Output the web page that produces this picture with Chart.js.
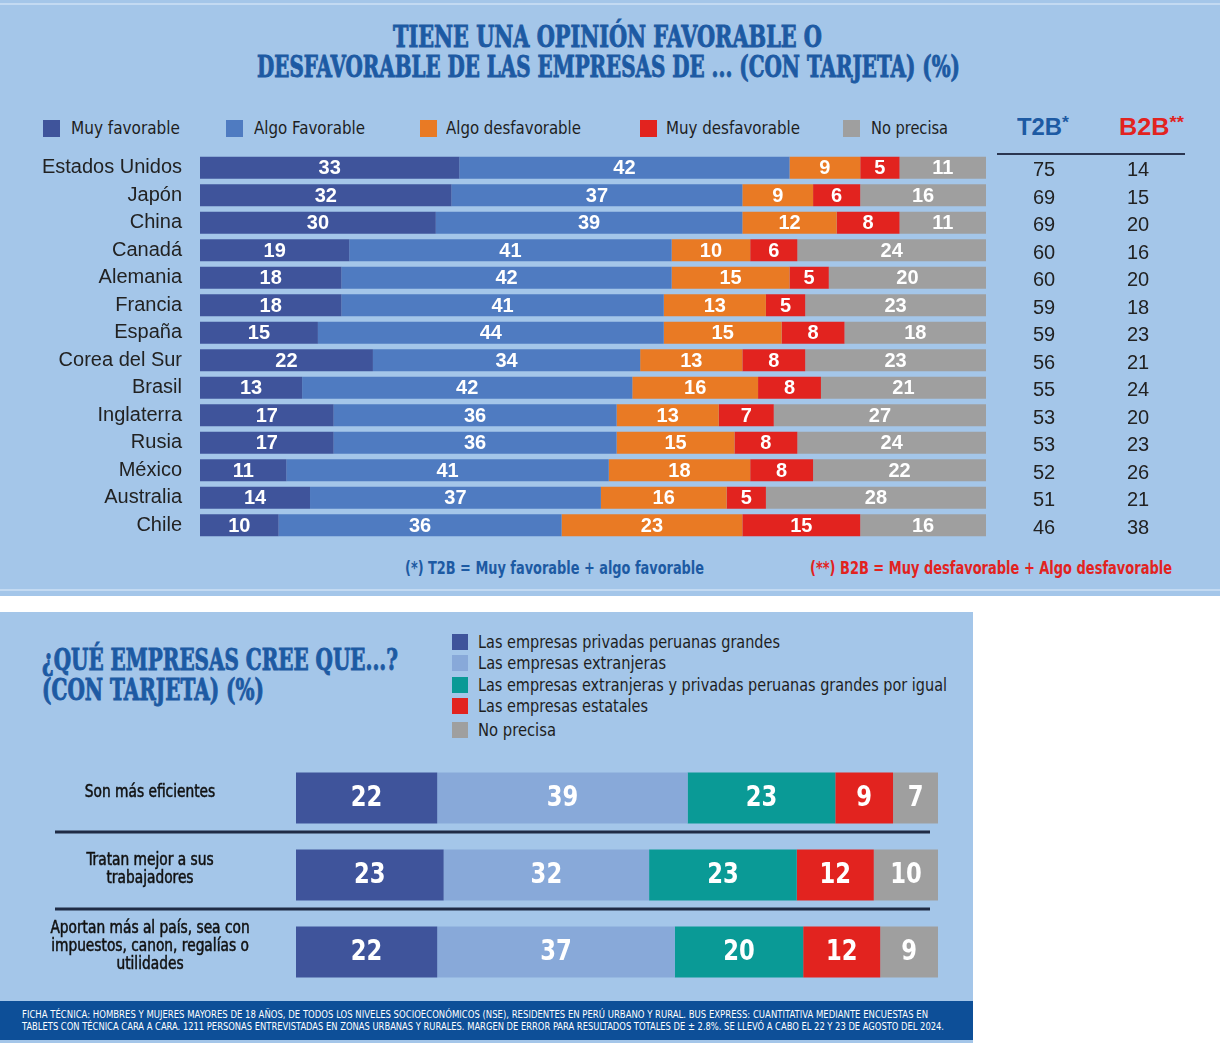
<!DOCTYPE html>
<html>
<head>
<meta charset="utf-8">
<script src="https://cdn.jsdelivr.net/npm/chart.js@4.4.1/dist/chart.umd.min.js"></script>
<style>
  body { margin: 0; width: 1220px; height: 1043px; background: #fff; position: relative; overflow: hidden; }
  .panel { position: absolute; background: #a4c6e9; }
  .t { position: absolute; white-space: nowrap; transform-origin: left center; line-height: 1; }
  .title { font-family: "DejaVu Serif Condensed", "DejaVu Serif", serif; font-weight: bold; color: #1d5aa3; font-size: 30px; -webkit-text-stroke: 0.9px #1d5aa3; }
  .leg { font-family: "Liberation Sans Narrow", "DejaVu Sans Condensed", sans-serif; color: #1e1e1e; font-size: 18px; }
  .sq { position: absolute; width: 17px; height: 17px; }
  canvas { position: absolute; }
</style>
</head>
<body>
<div class="panel" style="left:0;top:0;width:1220px;height:596px;"></div>
<div style="position:absolute;left:0;top:3px;width:1220px;height:2px;background:#c3daf2;"></div>
<div style="position:absolute;left:0;top:589px;width:1220px;height:2px;background:#c3daf2;"></div>
<div class="panel" style="left:0;top:612px;width:973px;height:431px;"></div>
<div style="position:absolute;left:0;top:1001px;width:973px;height:39px;background:#0d4f98;"></div>

<div class="t title" data-w="429" style="left:393px;top:22px;">TIENE UNA OPINIÓN FAVORABLE O</div>
<div class="t title" data-w="703" style="left:257px;top:52px;">DESFAVORABLE DE LAS EMPRESAS DE ... (CON TARJETA) (%)</div>

<div class="sq" style="left:43px;top:120px;background:#3f549b;"></div>
<div class="t leg" data-w="109" style="left:71px;top:119px;">Muy favorable</div>
<div class="sq" style="left:226px;top:120px;background:#4f7bc1;"></div>
<div class="t leg" data-w="111" style="left:254px;top:119px;">Algo Favorable</div>
<div class="sq" style="left:420px;top:120px;background:#e97a24;"></div>
<div class="t leg" data-w="135" style="left:446px;top:119px;">Algo desfavorable</div>
<div class="sq" style="left:640px;top:120px;background:#e2231f;"></div>
<div class="t leg" data-w="134" style="left:666px;top:119px;">Muy desfavorable</div>
<div class="sq" style="left:843px;top:120px;background:#9f9f9f;"></div>
<div class="t leg" data-w="77" style="left:871px;top:119px;">No precisa</div>

<div class="t" data-w="52" style="left:1017px;top:114px;font:bold 23px 'Liberation Sans',sans-serif;color:#1d5aa3;">T2B<span style="font-size:17px;position:relative;top:-7px;">*</span></div>
<div class="t" data-w="65" style="left:1119px;top:114px;font:bold 23px 'Liberation Sans',sans-serif;color:#e2231f;">B2B<span style="font-size:17px;position:relative;top:-7px;">**</span></div>
<div style="position:absolute;left:997px;top:153px;width:188px;height:2px;background:#2a3550;"></div>

<div class="t" data-w="299" style="left:405px;top:557px;font:bold 18px 'Liberation Sans Narrow','DejaVu Sans Condensed',sans-serif;color:#1d5aa3;">(*) T2B = Muy favorable + algo favorable</div>
<div class="t" data-w="362" style="left:810px;top:557px;font:bold 18px 'Liberation Sans Narrow','DejaVu Sans Condensed',sans-serif;color:#e2231f;">(**) B2B = Muy desfavorable + Algo desfavorable</div>

<div class="t title" data-w="356" style="left:42px;top:645px;">¿QUÉ EMPRESAS CREE QUE...?</div>
<div class="t title" data-w="222" style="left:42px;top:675px;">(CON TARJETA) (%)</div>

<div class="sq" style="left:452px;top:634px;width:16px;height:16px;background:#3f549b;"></div>
<div class="t leg" data-w="302" style="left:478px;top:633px;">Las empresas privadas peruanas grandes</div>
<div class="sq" style="left:452px;top:655px;width:16px;height:16px;background:#88a9d9;"></div>
<div class="t leg" data-w="188" style="left:478px;top:654px;">Las empresas extranjeras</div>
<div class="sq" style="left:452px;top:677px;width:16px;height:16px;background:#0a9a96;"></div>
<div class="t leg" data-w="469" style="left:478px;top:676px;">Las empresas extranjeras y privadas peruanas grandes por igual</div>
<div class="sq" style="left:452px;top:698px;width:16px;height:16px;background:#e2231f;"></div>
<div class="t leg" data-w="170" style="left:478px;top:697px;">Las empresas estatales</div>
<div class="sq" style="left:452px;top:722px;width:16px;height:16px;background:#9f9f9f;"></div>
<div class="t leg" data-w="78" style="left:478px;top:721px;">No precisa</div>

<div class="t" data-w="906" style="left:22px;top:1009px;font:10px 'Liberation Sans Narrow','DejaVu Sans Condensed',sans-serif;color:#fff;">FICHA TÉCNICA: HOMBRES Y MUJERES MAYORES DE 18 AÑOS, DE TODOS LOS NIVELES SOCIOECONÓMICOS (NSE), RESIDENTES EN PERÚ URBANO Y RURAL. BUS EXPRESS: CUANTITATIVA MEDIANTE ENCUESTAS EN</div>
<div class="t" data-w="922" style="left:22px;top:1021px;font:10px 'Liberation Sans Narrow','DejaVu Sans Condensed',sans-serif;color:#fff;">TABLETS CON TÉCNICA CARA A CARA. 1211 PERSONAS ENTREVISTADAS EN ZONAS URBANAS Y RURALES. MARGEN DE ERROR PARA RESULTADOS TOTALES DE ± 2.8%. SE LLEVÓ A CABO EL 22 Y 23 DE AGOSTO DEL 2024.</div>

<canvas id="top" width="1220" height="395" style="left:0;top:150px;"></canvas>
<canvas id="bottom" width="975" height="260" style="left:0;top:740px;"></canvas>

<script>
// --- data: top chart ---
var countries = ["Estados Unidos", "Japón", "China", "Canadá", "Alemania", "Francia", "España",
  "Corea del Sur", "Brasil", "Inglaterra", "Rusia", "México", "Australia", "Chile"];
var muyFavorable = [33, 32, 30, 19, 18, 18, 15, 22, 13, 17, 17, 11, 14, 10];
var algoFavorable = [42, 37, 39, 41, 42, 41, 44, 34, 42, 36, 36, 41, 37, 36];
var algoDesfavorable = [9, 9, 12, 10, 15, 13, 15, 13, 16, 13, 15, 18, 16, 23];
var muyDesfavorable = [5, 6, 8, 6, 5, 5, 8, 8, 8, 7, 8, 8, 5, 15];
var noPrecisa = [11, 16, 11, 24, 20, 23, 18, 23, 21, 27, 24, 22, 28, 16];
var t2b = [75, 69, 69, 60, 60, 59, 59, 56, 55, 53, 53, 52, 51, 46];
var b2b = [14, 15, 20, 16, 20, 18, 23, 21, 24, 20, 23, 26, 21, 38];

// --- data: bottom chart ---
var questions = [["Son más eficientes"], ["Tratan mejor a sus", "trabajadores"],
  ["Aportan más al país, sea con", "impuestos, canon, regalías o", "utilidades"]];
var privadasPeruanas = [22, 23, 22];
var extranjeras = [39, 32, 37];
var porIgual = [23, 23, 20];
var estatales = [9, 12, 12];
var noPrecisa2 = [7, 10, 9];

function fitTexts() {
  document.querySelectorAll('[data-w]').forEach(function (el) {
    el.style.transform = '';
    var w = el.getBoundingClientRect().width;
    el.style.transform = 'scaleX(' + (+el.dataset.w / w) + ')';
  });
}

var segLabels = {
  id: 'segLabels',
  afterDatasetsDraw: function (chart, args, opts) {
    var ctx = chart.ctx;
    ctx.save();
    ctx.fillStyle = '#fff';
    ctx.font = opts.font;
    ctx.textAlign = 'center';
    ctx.textBaseline = 'middle';
    chart.data.datasets.forEach(function (ds, i) {
      chart.getDatasetMeta(i).data.forEach(function (bar, j) {
        var cx = (bar.x + bar.base) / 2;
        ctx.save();
        ctx.translate(cx, bar.y + 1);
        ctx.scale(opts.sx, 1);
        ctx.fillText(ds.data[j], 0, 0);
        ctx.restore();
      });
    });
    ctx.restore();
  }
};

var sideCols = {
  id: 'sideCols',
  afterDraw: function (chart) {
    var ctx = chart.ctx, y = chart.scales.y;
    ctx.save();
    ctx.fillStyle = '#222';
    ctx.font = '20px "Liberation Sans", Arial, sans-serif';
    ctx.textAlign = 'center';
    ctx.textBaseline = 'middle';
    for (var i = 0; i < countries.length; i++) {
      var py = y.getPixelForValue(i) + 3;
      ctx.fillText(t2b[i], 1044, py);
      ctx.fillText(b2b[i], 1138, py);
    }
    ctx.restore();
  }
};

var rowDecor = {
  id: 'rowDecor',
  afterDraw: function (chart) {
    var ctx = chart.ctx, y = chart.scales.y;
    ctx.save();
    ctx.strokeStyle = '#1f2b45';
    ctx.lineWidth = 3;
    for (var i = 0; i < questions.length - 1; i++) {
      var py = Math.round((y.getPixelForValue(i) + y.getPixelForValue(i + 1)) / 2) - 5;
      ctx.beginPath();
      ctx.moveTo(55, py);
      ctx.lineTo(930, py);
      ctx.stroke();
    }
    ctx.fillStyle = '#111';
    ctx.strokeStyle = '#111';
    ctx.lineWidth = 0.5;
    ctx.font = '17px "Liberation Sans Narrow", "DejaVu Sans Condensed", sans-serif';
    ctx.textAlign = 'center';
    ctx.textBaseline = 'middle';
    questions.forEach(function (lines, i) {
      var cy = y.getPixelForValue(i) - 5;
      var start = cy - (lines.length - 1) * 18 / 2;
      lines.forEach(function (ln, k) {
        ctx.save();
        ctx.translate(150, start + k * 18);
        ctx.scale(0.9, 1);
        ctx.fillText(ln, 0, 0);
        ctx.strokeText(ln, 0, 0);
        ctx.restore();
      });
    });
    ctx.restore();
  }
};

function makeCharts() {
  new Chart(document.getElementById('top'), {
    type: 'bar',
    data: {
      labels: countries,
      datasets: [
        { label: 'Muy favorable', data: muyFavorable, backgroundColor: '#3f549b' },
        { label: 'Algo Favorable', data: algoFavorable, backgroundColor: '#4f7bc1' },
        { label: 'Algo desfavorable', data: algoDesfavorable, backgroundColor: '#e97a24' },
        { label: 'Muy desfavorable', data: muyDesfavorable, backgroundColor: '#e2231f' },
        { label: 'No precisa', data: noPrecisa, backgroundColor: '#9f9f9f' }
      ]
    },
    options: {
      indexAxis: 'y',
      responsive: false,
      animation: false,
      devicePixelRatio: 1,
      barPercentage: 0.8,
      categoryPercentage: 1,
      layout: { padding: { top: 4, bottom: 6, left: 0, right: 234 } },
      scales: {
        x: { stacked: true, min: 0, max: 100, display: false },
        y: {
          stacked: true,
          afterFit: function (s) { s.width = 200; s.paddingTop = 0; s.paddingBottom = 0; },
          grid: { display: false, drawTicks: false },
          border: { display: false },
          ticks: { color: '#222', padding: 18, font: { family: '"Liberation Sans", Arial, sans-serif', size: 20 } }
        }
      },
      plugins: {
        legend: { display: false },
        tooltip: { enabled: false },
        segLabels: { font: 'bold 20px "Liberation Sans", Arial, sans-serif', sx: 1 }
      }
    },
    plugins: [segLabels, sideCols]
  });

  new Chart(document.getElementById('bottom'), {
    type: 'bar',
    data: {
      labels: questions,
      datasets: [
        { label: 'Las empresas privadas peruanas grandes', data: privadasPeruanas, backgroundColor: '#3f549b' },
        { label: 'Las empresas extranjeras', data: extranjeras, backgroundColor: '#88a9d9' },
        { label: 'Las empresas extranjeras y privadas peruanas grandes por igual', data: porIgual, backgroundColor: '#0a9a96' },
        { label: 'Las empresas estatales', data: estatales, backgroundColor: '#e2231f' },
        { label: 'No precisa', data: noPrecisa2, backgroundColor: '#9f9f9f' }
      ]
    },
    options: {
      indexAxis: 'y',
      responsive: false,
      animation: false,
      devicePixelRatio: 1,
      barPercentage: 0.66,
      categoryPercentage: 1,
      layout: { padding: { top: 19.5, bottom: 9.5, left: 0, right: 37 } },
      scales: {
        x: { stacked: true, min: 0, max: 100, display: false },
        y: {
          stacked: true,
          afterFit: function (s) { s.width = 296; },
          grid: { display: false, drawTicks: false },
          border: { display: false },
          ticks: { display: false }
        }
      },
      plugins: {
        legend: { display: false },
        tooltip: { enabled: false },
        segLabels: { font: 'bold 28px "Liberation Sans Narrow", "DejaVu Sans Condensed", sans-serif', sx: 0.9 }
      }
    },
    plugins: [segLabels, rowDecor]
  });
}

document.fonts.ready.then(function () {
  fitTexts();
  makeCharts();
});
</script>
</body>
</html>
